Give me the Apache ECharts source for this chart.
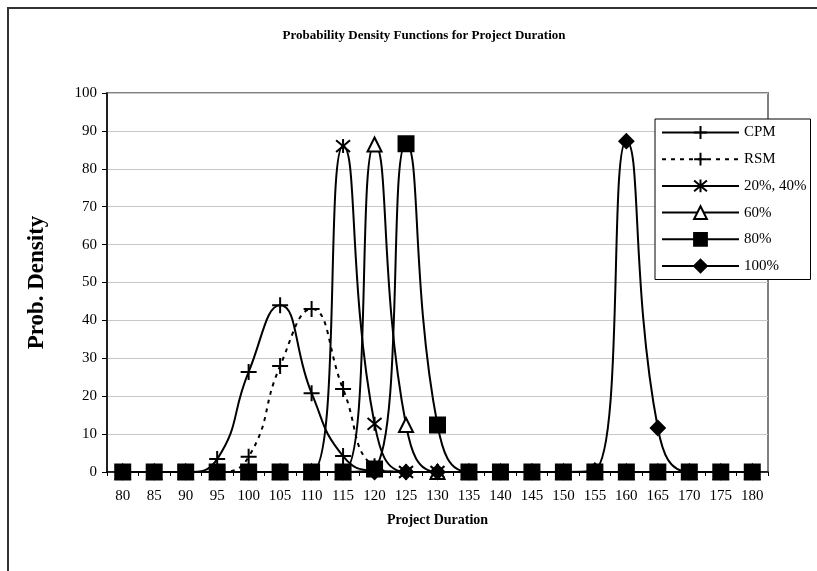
<!DOCTYPE html>
<html>
<head>
<meta charset="utf-8">
<script src="https://cdn.jsdelivr.net/npm/echarts@6/dist/echarts.min.js"></script>
<style>html,body{margin:0;padding:0;background:#fff;}#c{width:817px;height:571px;}</style>
</head>
<body>
<div id="c"></div>
<script>
const categories = ['80','85','90','95','100','105','110','115','120','125','130','135','140','145','150','155','160','165','170','175','180'];
const cpm      = [0,0,0,3.4,26.4,44,20.8,4.2,0.3,0,0,0,0,0,0,0,0,0,0,0,0];
const rsm      = [0,0,0,0,4,28,43,21.9,1.5,0,0,0,0,0,0,0,0,0,0,0,0];
const p20_40   = [0,0,0,0,0,0,0,86,12.7,0,0,0,0,0,0,0,0,0,0,0,0];
const p60      = [0,0,0,0,0,0,0,0,86.4,12.4,0,0,0,0,0,0,0,0,0,0,0];
const p80      = [0,0,0,0,0,0,0,0,0.8,86.6,12.4,0,0,0,0,0,0,0,0,0,0];
const p100     = [0,0,0,0,0,0,0,0,0,0,0,0,0,0,0,0.4,87.3,11.6,0,0,0];
const seriesNames = ['CPM','RSM','20%, 40%','60%','80%','100%'];
const yTicks = [0,10,20,30,40,50,60,70,80,90,100];

const FONT = "'Liberation Serif','Times New Roman',serif";
const plusPath = 'path://M5,0V10M0,5H10';
const starPath = 'path://M5,0V10M0.8,0.8L9.2,9.2M9.2,0.8L0.8,9.2';

function mk(name, data, symbol, size, opts) {
  return Object.assign({
    name: name, type: 'line', data: data, smooth: 0.5,
    symbol: symbol, symbolSize: size,
    lineStyle: { color: '#000', width: 2 },
    itemStyle: { color: '#000', borderColor: '#000', borderWidth: 2 },
    emphasis: { disabled: true },
    animation: false
  }, opts || {});
}

const chart = echarts.init(document.getElementById('c'));
chart.setOption({
  backgroundColor: '#fff',
  animation: false,
  title: {
    text: 'Probability Density Functions for Project Duration',
    left: 419, top: 24, textAlign: 'center',
    textStyle: { fontFamily: FONT, fontWeight: 'bold', fontSize: 13, color: '#000' }
  },
  graphic: [{
    type: 'rect', shape: { x: 8, y: 8, width: 840, height: 620 },
    style: { fill: 'none', stroke: '#333', lineWidth: 2 }, z: -10, silent: true
  }],
  legend: {
    orient: 'vertical', left: 655, top: 119,
    itemWidth: 77, itemHeight: 16, itemGap: 11.7,
    padding: [6, 4, 6, 6],
    backgroundColor: '#fff', borderColor: '#000', borderWidth: 1,
    textStyle: { fontFamily: FONT, fontSize: 15, color: '#000' },
    data: seriesNames
  },
  grid: {
    left: 107, right: 49, top: 93, bottom: 99,
    show: true, borderColor: '#808080', borderWidth: 2, backgroundColor: 'transparent'
  },
  xAxis: {
    type: 'category', data: categories, boundaryGap: true,
    name: 'Project Duration', nameLocation: 'middle', nameGap: 41,
    nameTextStyle: { fontFamily: FONT, fontWeight: 'bold', fontSize: 14, color: '#000' },
    axisLine: { lineStyle: { color: '#000', width: 1.5 } },
    axisTick: { show: true, length: 4, lineStyle: { color: '#000' } },
    axisLabel: { fontFamily: FONT, fontSize: 15, color: '#000', margin: 17, interval: 0 },
    splitLine: { show: false }
  },
  yAxis: {
    type: 'value', min: 0, max: 100, interval: 10,
    name: 'Prob. Density', nameLocation: 'middle', nameGap: 58,
    nameTextStyle: { fontFamily: FONT, fontWeight: 'bold', fontSize: 23, color: '#000' },
    axisLine: { show: true, lineStyle: { color: '#000', width: 1.5 } },
    axisTick: { show: true, length: 5, lineStyle: { color: '#000' } },
    axisLabel: { fontFamily: FONT, fontSize: 15, color: '#000', margin: 10,
      formatter: function (v) { return yTicks.indexOf(v) >= 0 ? String(v) : ''; } },
    splitLine: { show: true, lineStyle: { color: '#c8c8c8', width: 1 } }
  },
  series: [
    mk('CPM', cpm, plusPath, 16),
    mk('RSM', rsm, plusPath, 16, { lineStyle: { color: '#000', width: 2, type: [4, 5] } }),
    mk('20%, 40%', p20_40, starPath, 14),
    mk('60%', p60, 'triangle', 14, { itemStyle: { color: '#fff', borderColor: '#000', borderWidth: 2 } }),
    mk('80%', p80, 'rect', 15),
    mk('100%', p100, 'diamond', 14)
  ]
});
</script>
</body>
</html>
